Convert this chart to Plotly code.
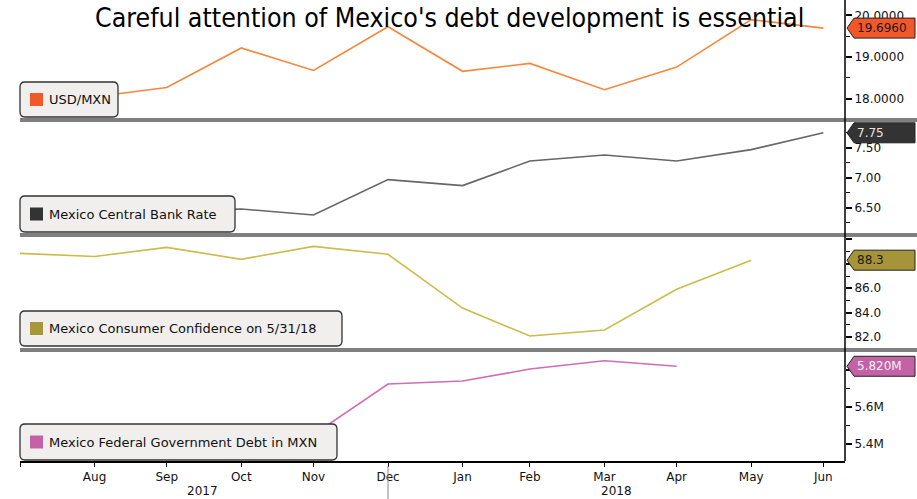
import plotly.graph_objects as go
from plotly.subplots import make_subplots

# ---------------- data ----------------
dates = ["2017-07-31", "2017-08-31", "2017-09-30", "2017-10-31", "2017-11-30",
         "2017-12-31", "2018-01-31", "2018-02-28", "2018-03-31", "2018-04-30",
         "2018-05-31", "2018-06-30"]
month_labels = ["", "Aug", "Sep", "Oct", "Nov", "Dec", "Jan", "Feb", "Mar",
                "Apr", "May", "Jun"]

usd_mxn = [17.80, 18.05, 18.27, 19.22, 18.68, 19.73, 18.66, 18.85, 18.22,
           18.76, 19.90, 19.696]
cb_rate = [6.27, 6.36, 6.45, 6.48, 6.38, 6.97, 6.87, 7.28, 7.38, 7.28, 7.47, 7.75]
cons_conf = [88.86, 88.60, 89.35, 88.37, 89.43, 88.78, 84.37, 82.08, 82.57,
             85.92, 88.30]
gov_debt = [5.37, 5.39, 5.40, 5.42, 5.45, 5.724, 5.74, 5.805, 5.85, 5.820]

series_names = ["USD/MXN", "Mexico Central Bank Rate",
                "Mexico Consumer Confidence on 5/31/18",
                "Mexico Federal Government Debt in MXN"]
last_labels = ["19.6960", "7.75", "88.3", "5.820M"]
year_labels = ["2017", "2018"]

# ---------------- styling ----------------
W, H = 917, 499
ML, MR, MT, MB = 20, 72, 0, 38
PW, PH = W - ML - MR, H - MT - MB

line_colors = ["#F7873C", "#666666", "#CDBB4A", "#CF6DB5"]
sq_colors = ["#F05A28", "#333333", "#A8973A", "#C462A8"]
tag_fill = ["#F2572A", "#333333", "#A69439", "#C462A8"]
tag_text = ["#1a1a1a", "#e6e6e6", "#1a1a1a", "#f2f2f2"]
FONT = "DejaVu Sans"


def py(p):  # pixel (from top) -> paper y
    return 1 - (p - MT) / PH


def px(p):  # pixel -> paper x
    return (p - ML) / PW


# panel pixel extents (top, bottom)
panels = [(0, 118), (122, 233), (237, 348), (352, 461)]
ranges = [[17.54, 20.37], [6.08, 7.93], [81.1, 90.2], [5.308, 5.897]]

fig = make_subplots(rows=4, cols=1, shared_xaxes=True, vertical_spacing=0.0)

all_vals = [usd_mxn, cb_rate, cons_conf, gov_debt]
for i, vals in enumerate(all_vals):
    fig.add_trace(go.Scatter(x=dates[:len(vals)], y=vals, mode="lines",
                             line=dict(color=line_colors[i], width=1.6),
                             showlegend=False, hoverinfo="skip"),
                  row=i + 1, col=1)

ytick_sets = [
    ([18, 19, 20], ["18.0000", "19.0000", "20.0000"], 0.5),
    ([6.5, 7.0, 7.5], ["6.50", "7.00", "7.50"], 0.25),
    ([82, 84, 86, 88, 90], ["82.0", "84.0", "86.0", "", ""], 1),
    ([5.4, 5.6, 5.8], ["5.4M", "5.6M", ""], 0.1),
]

for i in range(4):
    top, bot = panels[i]
    tv, tt, mdt = ytick_sets[i]
    fig.update_yaxes(row=i + 1, col=1, side="right", range=ranges[i],
                     domain=[py(bot), py(top)], tickvals=tv, ticktext=tt,
                     ticks="outside", ticklen=6, tickwidth=2, tickcolor="#000",
                     minor=dict(dtick=mdt, ticks="outside", ticklen=4,
                                tickwidth=1, tickcolor="#000"),
                     showgrid=False, zeroline=False, showline=False,
                     automargin=False,
                     tickfont=dict(family=FONT, size=12, color="#111"))

fig.update_xaxes(range=["2017-07-31", "2018-07-09"], showgrid=False,
                 zeroline=False, automargin=False)
fig.update_xaxes(row=4, col=1, tickvals=dates, ticktext=month_labels,
                 ticks="outside", ticklen=4, tickcolor="#000", showline=True,
                 linecolor="#000", linewidth=1.5,
                 tickfont=dict(family=FONT, size=12, color="#111"))

shapes = []
annotations = []

# separators
for yy in [120, 235, 350]:
    shapes.append(dict(type="line", xref="paper", yref="paper",
                       x0=0, x1=px(W + 5), y0=py(yy), y1=py(yy),
                       line=dict(color="#7f7f7f", width=4), layer="above"))
# right axis vertical line
shapes.append(dict(type="line", xref="paper", yref="paper", x0=1, x1=1,
                   y0=0, y1=1, line=dict(color="#000", width=1.5),
                   layer="above"))

# legend boxes
legend_boxes = [(20, 118, 82, 117), (20, 235, 196, 232),
                (20, 342, 311, 346), (20, 337, 424, 460)]


def rounded(x0, x1, y0, y1, r=5):
    rx, ry = r / PW, r / PH
    X0, X1 = px(x0), px(x1)
    Yt, Yb = py(y0), py(y1)
    return (f"M {X0 + rx},{Yt} L {X1 - rx},{Yt} Q {X1},{Yt} {X1},{Yt - ry} "
            f"L {X1},{Yb + ry} Q {X1},{Yb} {X1 - rx},{Yb} "
            f"L {X0 + rx},{Yb} Q {X0},{Yb} {X0},{Yb + ry} "
            f"L {X0},{Yt - ry} Q {X0},{Yt} {X0 + rx},{Yt} Z")


for i, (x0, x1, y0, y1) in enumerate(legend_boxes):
    shapes.append(dict(type="path", xref="paper", yref="paper",
                       path=rounded(x0, x1, y0, y1),
                       fillcolor="#F0EFED", line=dict(color="#333", width=1.3),
                       layer="above"))
    cy = (y0 + y1) / 2
    shapes.append(dict(type="rect", xref="paper", yref="paper",
                       x0=px(30), x1=px(43), y0=py(cy + 6.5), y1=py(cy - 6.5),
                       fillcolor=sq_colors[i], line=dict(width=0),
                       layer="above"))
    annotations.append(dict(x=px(47), y=py(cy), xref="paper", yref="paper",
                            text=series_names[i], showarrow=False,
                            xanchor="left", yanchor="middle",
                            font=dict(family=FONT, size=13, color="#111")))

# value tags
for i, vals in enumerate(all_vals):
    yref = "y" if i == 0 else f"y{i + 1}"
    val = vals[-1]
    shapes.append(dict(type="path", xref="paper", yref=yref,
                       xsizemode="pixel", ysizemode="pixel",
                       xanchor=1, yanchor=val,
                       path="M 2,0 L 9,10 L 70,10 L 70,-10 L 9,-10 Z",
                       fillcolor=tag_fill[i], line=dict(color="#222", width=1),
                       layer="above"))
    annotations.append(dict(x=1, y=val, xref="paper", yref=yref,
                            xshift=10, text=last_labels[i], showarrow=False,
                            xanchor="left", yanchor="middle",
                            font=dict(family=FONT, size=12, color=tag_text[i])))

# year labels + divider
annotations.append(dict(x="2017-10-15", y=py(491), xref="x4", yref="paper",
                        text=year_labels[0], showarrow=False,
                        yanchor="middle",
                        font=dict(family=FONT, size=12, color="#111")))
annotations.append(dict(x="2018-04-05", y=py(491), xref="x4", yref="paper",
                        text=year_labels[1], showarrow=False,
                        yanchor="middle",
                        font=dict(family=FONT, size=12, color="#111")))
shapes.append(dict(type="line", xref="x4", yref="paper",
                   x0="2017-12-31", x1="2017-12-31", y0=py(466), y1=py(499),
                   line=dict(color="#888", width=1)))

# title
annotations.append(dict(x=px(449), y=py(18), xref="paper", yref="paper",
                        text="Careful attention of Mexico's debt development is essential",
                        showarrow=False, xanchor="center", yanchor="middle",
                        font=dict(family="DejaVu Sans Condensed", size=26.5,
                                  color="#000")))

fig.update_layout(width=W, height=H,
                  margin=dict(l=ML, r=MR, t=MT, b=MB),
                  paper_bgcolor="white", plot_bgcolor="white",
                  shapes=shapes, annotations=annotations,
                  showlegend=False)

fig.write_html("out.html", config={"displayModeBar": False},
               post_script="document.body.style.margin='0';"
                           "document.body.style.overflow='hidden';")
